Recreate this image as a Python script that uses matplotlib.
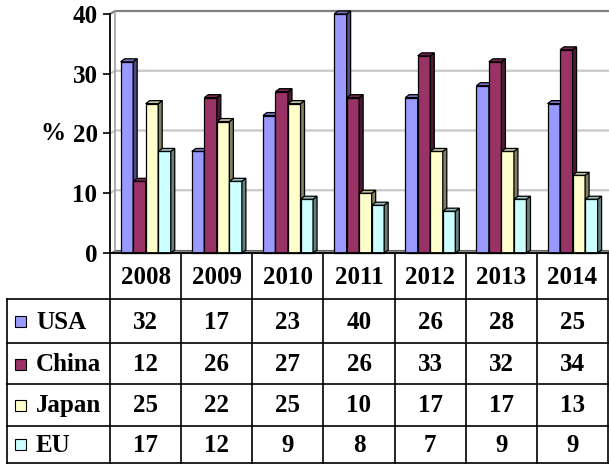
import numpy as np
import matplotlib.pyplot as plt
from matplotlib.patches import Polygon, Rectangle
from matplotlib.colors import to_rgb

years = ["2008", "2009", "2010", "2011", "2012", "2013", "2014"]
series = ["USA", "China", "Japan", "EU"]
usa = [32, 17, 23, 40, 26, 28, 25]
china = [12, 26, 27, 26, 33, 32, 34]
japan = [25, 22, 25, 10, 17, 17, 13]
eu = [17, 12, 9, 8, 7, 9, 9]
colors = ["#9999FF", "#993366", "#FFFFCC", "#CCFFFF"]
yticks = [0, 10, 20, 30, 40]

values = [usa, china, japan, eu]

plt.rcParams["font.family"] = ["Liberation Serif", "DejaVu Serif"]
plt.rcParams["font.weight"] = "bold"
FS = 18

W, H = 609, 465
X0, X1 = 110, 608        # plot area, pixels
YZ, YT = 253, 14         # value 0 and value 40, pixels
TX = 7                   # table left edge
rows_y = [299, 343, 384, 425.5, 463]

fig = plt.figure(figsize=(W / 100, H / 100), dpi=100)

# table layer in pixel coordinates
tab = fig.add_axes([0, 0, 1, 1])
tab.set_xlim(0, W)
tab.set_ylim(H, 0)
tab.axis("off")

ax = fig.add_axes([X0 / W, 1 - YZ / H, (X1 - X0) / W, (YZ - YT) / H])
ax.patch.set_alpha(0)
ax.set_xlim(0, len(years))
ax.set_ylim(0, 40)

colw = (X1 - X0) / len(years)
py = 40 / (YZ - YT)            # data units per pixel, y
wdx, wdy = 5 / colw, 3 * py    # wall depth
bdx, bdy = 4 / colw, 3 * py    # bar depth


def shade(c, f):
    r, g, b = to_rgb(c)
    return (r * f, g * f, b * f)


# floor
ax.add_patch(Polygon([(0, 0), (len(years), 0), (len(years), wdy), (wdx, wdy)],
                     closed=True, fc="#8c8c8c", ec="#606060", lw=0.8,
                     clip_on=False, zorder=1))

# back wall gridlines and left wall
for v in yticks[1:]:
    c = "#808080" if v == 40 else "#c8c8c8"
    ax.plot([0, wdx, len(years)], [v, v + wdy, v + wdy], color=c,
            lw=1.6, clip_on=False, zorder=1)
ax.plot([wdx, wdx], [wdy, 40 + wdy], color="#a0a0a0", lw=1.2,
        clip_on=False, zorder=1)

# 3D bars
bw = 0.176
start = 0.15
for i in range(len(years)):
    for s, vals in enumerate(values):
        x = i + start + s * bw
        h = vals[i]
        c = colors[s]
        ax.add_patch(Rectangle((x, 0), bw, h, fc=c, ec="black", lw=0.9,
                               clip_on=False, zorder=3))
        ax.add_patch(Polygon([(x + bw, 0), (x + bw + bdx, bdy),
                              (x + bw + bdx, h + bdy), (x + bw, h)],
                             closed=True, fc=shade(c, 0.5), ec="black",
                             lw=0.9, clip_on=False, zorder=3))
        ax.add_patch(Polygon([(x, h), (x + bw, h), (x + bw + bdx, h + bdy),
                              (x + bdx, h + bdy)],
                             closed=True, fc=shade(c, 0.75), ec="black",
                             lw=0.9, clip_on=False, zorder=3))

# axes styling
for side in ["top", "right"]:
    ax.spines[side].set_visible(False)
ax.spines["left"].set_linewidth(1.3)
ax.spines["bottom"].set_linewidth(1.3)
ax.spines["left"].set_zorder(5)
ax.spines["bottom"].set_zorder(5)
ax.set_xticks([])
ax.set_yticks(yticks)
ax.tick_params(axis="y", direction="out", length=5, width=1.2,
               labelsize=FS, pad=4)
ax.set_ylabel("%", rotation=0, fontsize=FS, fontweight="bold",
              va="center", labelpad=14)

# data table
col_x = [X0 + i * colw for i in range(len(years) + 1)]
lw_t = 1.2
for xc in col_x:
    tab.plot([xc, xc], [YZ, rows_y[-1]], color="black", lw=lw_t)
tab.plot([TX, TX], [rows_y[0], rows_y[-1]], color="black", lw=lw_t)
for yr in rows_y:
    tab.plot([TX, X1], [yr, yr], color="black", lw=lw_t)

for i, yr in enumerate(years):
    tab.text((col_x[i] + col_x[i + 1]) / 2, (YZ + rows_y[0]) / 2 + 1, yr,
             ha="center", va="center", fontsize=FS, fontweight="bold")

for s, name in enumerate(series):
    yc = (rows_y[s] + rows_y[s + 1]) / 2 + 1
    tab.add_patch(Rectangle((15, yc - 6), 11, 11, fc=colors[s], ec="black",
                            lw=0.8))
    tab.text(36, yc, name, ha="left", va="center", fontsize=FS,
             fontweight="bold")
    for i in range(len(years)):
        tab.text((col_x[i] + col_x[i + 1]) / 2, yc, str(values[s][i]),
                 ha="center", va="center", fontsize=FS, fontweight="bold")

fig.savefig("out.png", dpi=100)
